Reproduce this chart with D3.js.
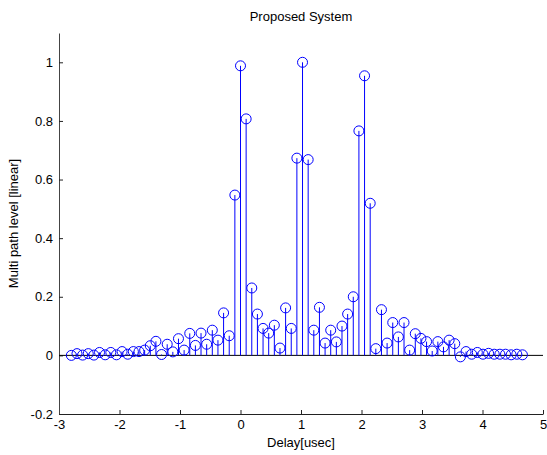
<!DOCTYPE html>
<html>
<head>
<meta charset="utf-8">
<script src="https://cdn.jsdelivr.net/npm/d3@7"></script>
<style>
  body { margin: 0; background: #fff; }
  text { font-family: "Liberation Sans", Arial, sans-serif; }
</style>
</head>
<body>
<div id="chart"></div>
<script>
// sample index k, delay = k * step (usec)
const step = 0.0932;
const firstIndex = -30;
const levels = [
  0.0, 0.006, 0.001, 0.006, 0.001, 0.01, 0.002, 0.01, 0.002, 0.013,
  0.004, 0.013, 0.013, 0.018, 0.033, 0.048, 0.003, 0.038, 0.012, 0.057,
  0.018, 0.075, 0.034, 0.076, 0.038, 0.086, 0.052, 0.145, 0.067, 0.547,
  0.988, 0.807, 0.23, 0.141, 0.092, 0.076, 0.103, 0.025, 0.162, 0.092,
  0.673, 1.0, 0.668, 0.086, 0.164, 0.042, 0.086, 0.046, 0.1, 0.141,
  0.2, 0.766, 0.954, 0.519, 0.023, 0.156, 0.042, 0.112, 0.063, 0.112,
  0.018, 0.074, 0.058, 0.047, 0.015, 0.047, 0.029, 0.052, 0.04, -0.005,
  0.013, 0.004, 0.01, 0.004, 0.007, 0.004, 0.004, 0.004, 0.002, 0.004,
  0.002
];
const xTicks = [-3, -2, -1, 0, 1, 2, 3, 4, 5];
const yTicks = [-0.2, 0, 0.2, 0.4, 0.6, 0.8, 1];

const data = levels.map((v, i) => ({ delay: (firstIndex + i) * step, level: v }));

const width = 547, height = 455;
const margin = { top: 33, right: 4, bottom: 41, left: 59 };

// matlab-style labels with a plain hyphen
const fmt = d => String(+(+d).toFixed(1));

const svg = d3.select("#chart")
    .append("svg")
    .attr("width", width)
    .attr("height", height);

const x = d3.scaleLinear()
    .domain([-3, 5])
    .range([margin.left, width - margin.right]);

const y = d3.scaleLinear()
    .domain([-0.2, 1.1])
    .range([height - margin.bottom, margin.top]);

// axes
const xAxis = svg.append("g")
    .attr("transform", `translate(0,${height - margin.bottom})`)
    .call(d3.axisBottom(x).tickValues(xTicks).tickSizeInner(-4).tickSizeOuter(0).tickPadding(6)
        .tickFormat(fmt));
xAxis.select(".domain").attr("stroke", "#222");
xAxis.selectAll(".tick line").attr("stroke", "#222");
xAxis.selectAll("text").attr("font-size", 13).attr("fill", "#000").attr("font-family", "Liberation Sans, Arial, sans-serif");

const yAxis = svg.append("g")
    .attr("transform", `translate(${margin.left},0)`)
    .call(d3.axisLeft(y).tickValues(yTicks).tickSizeInner(-4).tickSizeOuter(0).tickPadding(6)
        .tickFormat(fmt));
yAxis.select(".domain").attr("stroke", "#444");
yAxis.selectAll(".tick line").attr("stroke", "#222");
yAxis.selectAll("text").attr("font-size", 13).attr("fill", "#000").attr("font-family", "Liberation Sans, Arial, sans-serif");

// baseline at zero
svg.append("line")
    .attr("x1", x(-3))
    .attr("x2", x(5))
    .attr("y1", y(0))
    .attr("y2", y(0))
    .attr("stroke", "#000")
    .attr("stroke-width", 1);

// stems
svg.selectAll(".stem")
    .data(data)
    .join("line")
    .attr("class", "stem")
    .attr("x1", d => x(d.delay))
    .attr("x2", d => x(d.delay))
    .attr("y1", y(0))
    .attr("y2", d => y(d.level))
    .attr("stroke", "#0000ff")
    .attr("stroke-width", 1);

// markers
svg.selectAll(".marker")
    .data(data)
    .join("circle")
    .attr("class", "marker")
    .attr("cx", d => x(d.delay))
    .attr("cy", d => y(d.level))
    .attr("r", 5)
    .attr("fill", "none")
    .attr("stroke", "#0000ff")
    .attr("stroke-width", 1);

// title and labels
svg.append("text")
    .attr("x", (x(-3) + x(5)) / 2)
    .attr("y", 21)
    .attr("text-anchor", "middle")
    .attr("font-size", 13)
    .text("Proposed System");

svg.append("text")
    .attr("x", (x(-3) + x(5)) / 2)
    .attr("y", 447)
    .attr("text-anchor", "middle")
    .attr("font-size", 13)
    .text("Delay[usec]");

svg.append("text")
    .attr("transform", `translate(18,${(y(-0.2) + y(1.1)) / 2}) rotate(-90)`)
    .attr("text-anchor", "middle")
    .attr("font-size", 13)
    .text("Multi path level [linear]");
</script>
</body>
</html>
